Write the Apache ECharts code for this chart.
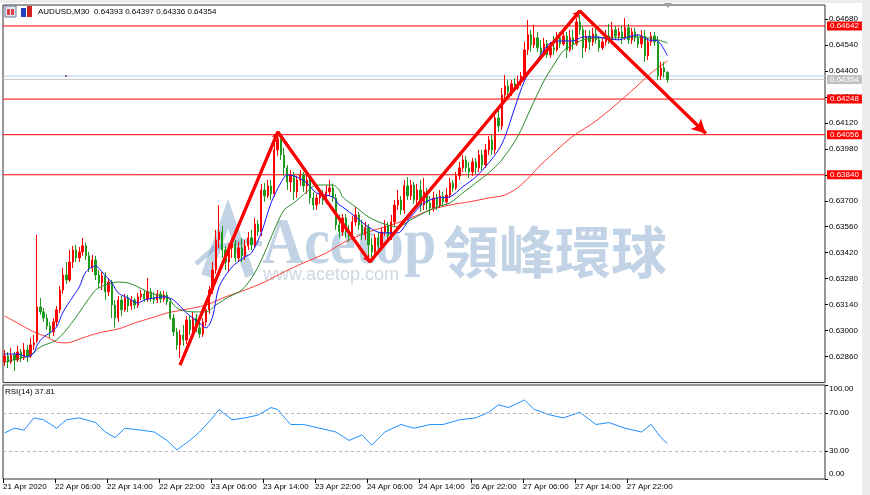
<!DOCTYPE html>
<html><head><meta charset="utf-8">
<script src="https://cdn.jsdelivr.net/npm/echarts@6/dist/echarts.min.js"></script>
<style>html,body{margin:0;padding:0;background:#fff}#c{width:870px;height:495px}</style>
</head><body><div id="c"></div>
<script>
const headerText = 'AUDUSD,M30  0.64393 0.64397 0.64336 0.64354';
const rsiTitle = 'RSI(14) 37.81';
const tickLabels = ['21 Apr 2020','22 Apr 06:00','22 Apr 14:00','22 Apr 22:00','23 Apr 06:00','23 Apr 14:00','23 Apr 22:00','24 Apr 06:00','24 Apr 14:00','26 Apr 22:00','27 Apr 06:00','27 Apr 14:00','27 Apr 22:00'];
const priceTicks = [0.62860,0.63000,0.63140,0.63280,0.63420,0.63560,0.63700,0.63840,0.63980,0.64120,0.64260,0.64400,0.64540,0.64680];
const rsiTicks = [0,30,70,100];
const rsiLevels = [70,30];
const levels = [0.64642,0.64248,0.64056,0.63840];
const bidPrice = 0.64354;
const askPrice = 0.64372;

const opens = [0.62831,0.62864,0.62831,0.62869,0.62842,0.62885,0.62853,0.62896,0.62864,0.62923,
0.62944,0.63128,0.63101,0.63068,0.63025,0.62993,0.63047,0.63112,0.63219,0.63300,
0.63273,0.63370,0.63435,0.63392,0.63424,0.63457,0.63403,0.63338,0.63381,0.63300,
0.63257,0.63295,0.63209,0.63262,0.63138,0.63068,0.63165,0.63112,0.63176,0.63133,
0.63165,0.63138,0.63182,0.63198,0.63171,0.63209,0.63176,0.63165,0.63198,0.63171,
0.63192,0.63155,0.63068,0.62993,0.62923,0.62977,0.62950,0.63058,0.63004,0.63068,
0.63015,0.62982,0.63047,0.63112,0.63219,0.63327,0.63489,0.63532,0.63435,0.63370,
0.63446,0.63467,0.63392,0.63446,0.63403,0.63457,0.63500,0.63462,0.63575,0.63532,
0.63758,0.63726,0.63780,0.63737,0.63974,0.64028,0.63947,0.63877,0.63801,0.63839,
0.63748,0.63812,0.63839,0.63780,0.63812,0.63715,0.63677,0.63715,0.63731,0.63704,
0.63748,0.63769,0.63715,0.63570,0.63532,0.63607,0.63532,0.63510,0.63586,0.63624,
0.63570,0.63516,0.63554,0.63462,0.63424,0.63500,0.63457,0.63532,0.63564,0.63510,
0.63586,0.63677,0.63704,0.63650,0.63780,0.63726,0.63785,0.63704,0.63758,0.63677,
0.63748,0.63688,0.63661,0.63715,0.63677,0.63726,0.63694,0.63731,0.63796,0.63769,
0.63834,0.63877,0.63920,0.63877,0.63855,0.63909,0.63877,0.63947,0.63893,0.63974,
0.64028,0.63974,0.64146,0.64103,0.64270,0.64319,0.64287,0.64330,0.64308,0.64340,
0.64373,0.64513,0.64594,0.64540,0.64578,0.64524,0.64502,0.64545,0.64486,0.64524,
0.64513,0.64578,0.64545,0.64588,0.64513,0.64578,0.64545,0.64664,0.64621,0.64524,
0.64588,0.64556,0.64599,0.64567,0.64524,0.64556,0.64588,0.64567,0.64621,0.64588,
0.64610,0.64578,0.64632,0.64567,0.64610,0.64578,0.64545,0.64588,0.64481,0.64556,
0.64588,0.64556,0.64373,0.64416,0.64393];
const closes = [0.62864,0.62831,0.62869,0.62842,0.62885,0.62853,0.62896,0.62864,0.62923,0.62934,
0.63128,0.63101,0.63068,0.63025,0.62993,0.63047,0.63112,0.63219,0.63300,0.63273,
0.63370,0.63435,0.63392,0.63424,0.63457,0.63403,0.63338,0.63381,0.63300,0.63257,
0.63295,0.63209,0.63262,0.63138,0.63068,0.63165,0.63112,0.63176,0.63133,0.63165,
0.63138,0.63182,0.63198,0.63171,0.63209,0.63176,0.63165,0.63198,0.63171,0.63192,
0.63155,0.63068,0.62993,0.62923,0.62977,0.62950,0.63058,0.63004,0.63068,0.63015,
0.62982,0.63047,0.63112,0.63219,0.63327,0.63489,0.63532,0.63435,0.63370,0.63446,
0.63467,0.63392,0.63446,0.63403,0.63457,0.63500,0.63462,0.63575,0.63532,0.63758,
0.63726,0.63780,0.63737,0.63974,0.64028,0.63947,0.63877,0.63801,0.63839,0.63748,
0.63812,0.63839,0.63780,0.63812,0.63715,0.63677,0.63715,0.63731,0.63704,0.63748,
0.63769,0.63715,0.63570,0.63532,0.63607,0.63532,0.63510,0.63586,0.63624,0.63570,
0.63516,0.63554,0.63462,0.63424,0.63500,0.63457,0.63532,0.63564,0.63510,0.63586,
0.63677,0.63704,0.63650,0.63780,0.63726,0.63785,0.63704,0.63758,0.63677,0.63748,
0.63688,0.63661,0.63715,0.63677,0.63726,0.63694,0.63731,0.63796,0.63769,0.63834,
0.63877,0.63920,0.63877,0.63855,0.63909,0.63877,0.63947,0.63893,0.63974,0.64028,
0.63974,0.64146,0.64103,0.64270,0.64319,0.64287,0.64330,0.64308,0.64340,0.64373,
0.64513,0.64594,0.64540,0.64578,0.64524,0.64502,0.64545,0.64486,0.64524,0.64513,
0.64578,0.64545,0.64588,0.64513,0.64578,0.64545,0.64664,0.64621,0.64524,0.64588,
0.64556,0.64599,0.64567,0.64524,0.64556,0.64588,0.64567,0.64621,0.64588,0.64610,
0.64578,0.64632,0.64567,0.64610,0.64578,0.64545,0.64588,0.64481,0.64556,0.64588,
0.64556,0.64373,0.64416,0.64394,0.64354];
const highs = [0.62896,0.62885,0.62907,0.62885,0.62918,0.62901,0.62934,0.62923,0.62961,0.62977,
0.63516,0.63176,0.63122,0.63090,0.63047,0.63068,0.63133,0.63241,0.63338,0.63370,
0.63435,0.63457,0.63462,0.63451,0.63500,0.63473,0.63424,0.63408,0.63403,0.63327,
0.63316,0.63316,0.63284,0.63273,0.63165,0.63187,0.63187,0.63198,0.63192,0.63187,
0.63176,0.63203,0.63219,0.63219,0.63284,0.63230,0.63209,0.63219,0.63214,0.63214,
0.63209,0.63176,0.63090,0.63015,0.63004,0.63031,0.63079,0.63079,0.63101,0.63090,
0.63047,0.63068,0.63133,0.63241,0.63370,0.63543,0.63677,0.63564,0.63457,0.63467,
0.63500,0.63489,0.63478,0.63500,0.63489,0.63532,0.63543,0.63607,0.63597,0.63791,
0.63796,0.63812,0.63812,0.64028,0.64066,0.64049,0.63985,0.63893,0.63866,0.63855,
0.63834,0.63866,0.63855,0.63855,0.63834,0.63748,0.63737,0.63758,0.63758,0.63785,
0.63812,0.63791,0.63737,0.63624,0.63629,0.63629,0.63570,0.63618,0.63667,0.63640,
0.63597,0.63586,0.63575,0.63500,0.63521,0.63532,0.63554,0.63597,0.63586,0.63624,
0.63704,0.63758,0.63726,0.63812,0.63828,0.63812,0.63801,0.63791,0.63812,0.63823,
0.63769,0.63726,0.63748,0.63737,0.63758,0.63748,0.63769,0.63823,0.63812,0.63855,
0.63909,0.63947,0.63942,0.63909,0.63931,0.63931,0.63974,0.63974,0.64006,0.64049,
0.64055,0.64179,0.64190,0.64308,0.64378,0.64351,0.64351,0.64362,0.64373,0.64394,
0.64556,0.64675,0.64621,0.64648,0.64610,0.64567,0.64578,0.64567,0.64556,0.64588,
0.64610,0.64610,0.64632,0.64610,0.64621,0.64621,0.64685,0.64702,0.64642,0.64621,
0.64621,0.64632,0.64632,0.64588,0.64578,0.64621,0.64653,0.64664,0.64642,0.64632,
0.64642,0.64685,0.64653,0.64632,0.64632,0.64599,0.64621,0.64621,0.64578,0.64610,
0.64610,0.64588,0.64448,0.64448,0.64397];
const lows = [0.62810,0.62799,0.62820,0.62783,0.62831,0.62831,0.62842,0.62831,0.62853,0.62896,
0.62934,0.63085,0.63047,0.63004,0.62961,0.62971,0.63025,0.63095,0.63198,0.63252,
0.63262,0.63338,0.63370,0.63370,0.63403,0.63381,0.63316,0.63316,0.63273,0.63230,
0.63219,0.63165,0.63187,0.63068,0.63015,0.63047,0.63079,0.63101,0.63101,0.63112,
0.63117,0.63122,0.63165,0.63155,0.63155,0.63155,0.63144,0.63149,0.63149,0.63155,
0.63138,0.63058,0.62971,0.62896,0.62853,0.62918,0.62928,0.62977,0.62988,0.62993,
0.62961,0.62966,0.63025,0.63090,0.63198,0.63306,0.63446,0.63392,0.63327,0.63316,
0.63392,0.63370,0.63370,0.63370,0.63381,0.63435,0.63435,0.63446,0.63510,0.63510,
0.63694,0.63715,0.63704,0.63721,0.63942,0.63920,0.63834,0.63758,0.63748,0.63704,
0.63715,0.63780,0.63748,0.63737,0.63683,0.63650,0.63650,0.63683,0.63677,0.63683,
0.63726,0.63694,0.63543,0.63500,0.63510,0.63500,0.63478,0.63489,0.63564,0.63543,
0.63489,0.63489,0.63381,0.63392,0.63403,0.63424,0.63435,0.63510,0.63478,0.63489,
0.63564,0.63650,0.63624,0.63629,0.63704,0.63704,0.63683,0.63672,0.63640,0.63650,
0.63650,0.63624,0.63640,0.63650,0.63661,0.63672,0.63683,0.63715,0.63748,0.63758,
0.63812,0.63855,0.63855,0.63823,0.63834,0.63845,0.63855,0.63866,0.63877,0.63947,
0.63947,0.63952,0.64071,0.64082,0.64243,0.64265,0.64265,0.64287,0.64297,0.64319,
0.64351,0.64486,0.64502,0.64524,0.64502,0.64470,0.64481,0.64470,0.64470,0.64486,
0.64502,0.64524,0.64535,0.64470,0.64502,0.64513,0.64535,0.64594,0.64470,0.64502,
0.64513,0.64535,0.64545,0.64502,0.64513,0.64535,0.64545,0.64556,0.64567,0.64567,
0.64545,0.64567,0.64545,0.64545,0.64556,0.64524,0.64524,0.64448,0.64459,0.64535,
0.64535,0.64351,0.64351,0.64362,0.64336];

// moving averages: [bar index, price]
const maFast = [[0,0.62874],[4,0.62874],[7,0.62858],[9,0.62880],[10,0.62923],[12,0.62966],[14,0.62988],[16,0.63020],[18,0.63101],[21,0.63182],[23,0.63236],[25,0.63316],[28,0.63349],[30,0.63316],[33,0.63257],[35,0.63203],[38,0.63176],[41,0.63149],[43,0.63165],[46,0.63176],[49,0.63182],[52,0.63165],[56,0.63095],[60,0.63041],[62,0.63015],[64,0.63074],[66,0.63236],[70,0.63343],[74,0.63397],[76,0.63419],[79,0.63527],[82,0.63688],[85,0.63796],[87,0.63839],[90,0.63828],[93,0.63796],[96,0.63742],[101,0.63721],[103,0.63677],[104,0.63667],[108,0.63613],[112,0.63559],[116,0.63527],[121,0.63527],[125,0.63613],[129,0.63688],[133,0.63715],[137,0.63721],[141,0.63775],[145,0.63828],[149,0.63904],[152,0.63974],[154,0.64044],[157,0.64200],[160,0.64346],[163,0.64432],[166,0.64513],[168,0.64551],[171,0.64561],[175,0.64561],[178,0.64583],[182,0.64583],[186,0.64572],[189,0.64567],[192,0.64583],[195,0.64594],[198,0.64567],[201,0.64561],[204,0.64481]];
const maMid = [[0,0.62831],[5,0.62853],[8,0.62869],[11,0.62912],[14,0.62934],[16,0.62950],[19,0.63004],[22,0.63074],[25,0.63149],[28,0.63219],[31,0.63246],[35,0.63262],[38,0.63257],[41,0.63236],[44,0.63209],[47,0.63192],[50,0.63182],[53,0.63122],[58,0.63101],[62,0.63101],[65,0.63138],[69,0.63182],[73,0.63219],[77,0.63311],[80,0.63419],[83,0.63543],[86,0.63650],[89,0.63688],[93,0.63748],[96,0.63785],[101,0.63785],[103,0.63758],[104,0.63721],[108,0.63667],[112,0.63613],[116,0.63580],[121,0.63559],[125,0.63597],[129,0.63634],[133,0.63667],[137,0.63688],[141,0.63742],[145,0.63796],[149,0.63850],[153,0.63920],[158,0.64049],[162,0.64200],[166,0.64346],[169,0.64432],[172,0.64508],[175,0.64540],[178,0.64567],[184,0.64578],[188,0.64578],[194,0.64583],[198,0.64578],[201,0.64567],[204,0.64551]];
const maSlow = [[0,0.63079],[4,0.63041],[9,0.62993],[13,0.62966],[16,0.62939],[19,0.62934],[24,0.62961],[29,0.62988],[35,0.63009],[40,0.63041],[45,0.63068],[50,0.63095],[55,0.63112],[62,0.63138],[68,0.63182],[74,0.63219],[80,0.63262],[86,0.63316],[92,0.63365],[99,0.63419],[103,0.63462],[106,0.63489],[112,0.63532],[119,0.63570],[125,0.63607],[131,0.63650],[137,0.63677],[143,0.63694],[149,0.63715],[154,0.63731],[159,0.63785],[165,0.63893],[170,0.63974],[175,0.64049],[182,0.64130],[188,0.64216],[194,0.64308],[198,0.64373],[201,0.64416],[204,0.64454]];
// RSI(14): [bar index, value]
const rsiValues = [[0,49],[3,54],[6,52],[9,65],[12,63],[16,54],[19,63],[23,65],[28,60],[31,50],[34,44],[37,54],[42,52],[46,50],[50,41],[53,31],[57,41],[60,50],[64,65],[66,74],[70,63],[74,65],[78,68],[82,76],[84,74],[88,58],[92,58],[97,54],[102,50],[106,41],[110,47],[113,36],[117,50],[122,58],[126,54],[131,58],[135,58],[140,63],[145,65],[149,71],[152,79],[155,76],[160,84],[163,74],[168,68],[172,65],[177,71],[182,58],[186,60],[191,54],[196,50],[199,58],[202,44],[204,37.81]];
// hand-drawn zigzag trend lines: [bar index, price]
const zigzag = [[54,0.62815],[84.1,0.64071],[112.4,0.63370],[177,0.64723],[215.8,0.64063]];
const totalSlots = 253;

const UP = '#ff0000', DOWN = '#1f9a1f';
const FONT = '"Liberation Sans", Arial, sans-serif';
const WM = 'rgba(100,145,190,0.4)';
const slots = Array.from({length: totalSlots}, (_, i) => String(i));
const candleData = opens.map((o, i) => [o, closes[i], lows[i], highs[i]]);
const xTickPos = tickLabels.map((_, k) => 16 * k - 0.5);
const X0 = -0.5, X1 = totalSlots - 0.5;

const zigSegs = [];
for (let k = 0; k < zigzag.length - 1; k++) {
  const last = k === zigzag.length - 2;
  zigSegs.push([
    {coord: zigzag[k], symbol: 'none'},
    {coord: zigzag[k + 1], symbol: 'arrow', symbolSize: last ? [11, 14] : [6, 7]}
  ]);
}

function hLine(v, color, bg) {
  return {type: 'line', xAxisIndex: 1, yAxisIndex: 0, data: [[X0, v], [X1, v]], symbol: 'none', silent: true, z: 2,
    lineStyle: {color: color, width: 1},
    endLabel: bg ? {show: true, distance: 2, formatter: () => v.toFixed(5), backgroundColor: bg, color: '#fff',
      fontSize: 8, fontFamily: FONT, padding: [1, 3, 0, 3]} : {show: false}};
}

const chart = echarts.init(document.getElementById('c'), null, {renderer: 'canvas'});
const noLine = {show: false, onZero: false};

chart.setOption({
  animation: false,
  backgroundColor: '#fff',
  grid: [
    {left: 3, right: 45, top: 5, height: 377.6, show: true, borderColor: '#303030', borderWidth: 1, outerBoundsMode: 'none'},
    {left: 3, right: 45, top: 385, height: 94, show: true, borderColor: '#303030', borderWidth: 1, outerBoundsMode: 'none'}
  ],
  xAxis: [
    {type: 'category', gridIndex: 0, data: slots, boundaryGap: true, show: false, axisLine: noLine},
    {type: 'value', gridIndex: 0, min: X0, max: X1, show: false, axisLine: noLine},
    {type: 'value', gridIndex: 1, min: X0, max: X1, interval: 16,
      axisLine: noLine, splitLine: {show: false},
      axisTick: {show: true, length: 4, customValues: xTickPos, lineStyle: {color: '#000'}},
      axisLabel: {show: true, customValues: xTickPos, align: 'left', margin: 4, fontSize: 8, fontFamily: FONT, color: '#000',
        formatter: v => { const k = Math.round((v + 0.5) / 16); return (k >= 0 && k < tickLabels.length) ? tickLabels[k] : ''; }}}
  ],
  yAxis: [
    {type: 'value', gridIndex: 0, position: 'right', min: 0.6272, max: 0.64755, scale: true,
      axisLine: noLine, splitLine: {show: false},
      axisTick: {show: true, length: 3, customValues: priceTicks, lineStyle: {color: '#000'}},
      axisLabel: {customValues: priceTicks, margin: 4, fontSize: 8, fontFamily: FONT, color: '#000', formatter: v => v.toFixed(5)}},
    {type: 'value', gridIndex: 1, position: 'right', min: 0, max: 100,
      axisLine: noLine, splitLine: {show: false},
      axisTick: {show: true, length: 3, customValues: rsiTicks, lineStyle: {color: '#000'}},
      axisLabel: {customValues: rsiTicks, margin: 4, fontSize: 8, fontFamily: FONT, color: '#000',
        formatter: v => v === 100 ? '{t|100.00}' : (v === 0 ? '{b|0.00}' : v.toFixed(2)),
        rich: {t: {padding: [8, 0, 0, 0], fontSize: 8, fontFamily: FONT, color: '#000'}, b: {padding: [0, 0, 10, 0], fontSize: 8, fontFamily: FONT, color: '#000'}}}}
  ],
  series: [
    hLine(askPrice, '#b9cde3', null),
    hLine(bidPrice, '#c4c4c4', '#c0c0c0'),
    ...levels.map(v => hLine(v, '#ff0000', '#ff0000')),
    {type: 'line', xAxisIndex: 1, yAxisIndex: 0, data: maSlow, showSymbol: false, smooth: 0.3, z: 3,
      lineStyle: {color: '#ff3b3b', width: 1}},
    {type: 'candlestick', xAxisIndex: 0, yAxisIndex: 0, data: candleData, barWidth: 1.8, z: 3,
      itemStyle: {color: UP, color0: DOWN, borderColor: UP, borderColor0: DOWN, borderWidth: 1}},
    {type: 'line', xAxisIndex: 1, yAxisIndex: 0, data: maMid, showSymbol: false, smooth: 0.3, z: 4,
      lineStyle: {color: '#2a8a2a', width: 1}},
    {type: 'line', xAxisIndex: 1, yAxisIndex: 0, data: maFast, showSymbol: false, smooth: 0.3, z: 4,
      lineStyle: {color: '#1515ff', width: 1}},
    {type: 'line', xAxisIndex: 1, yAxisIndex: 0, data: zigzag, showSymbol: false, z: 6,
      lineStyle: {color: '#ff0000', width: 3},
      markLine: {silent: true, animation: false, label: {show: false},
        lineStyle: {color: '#ff0000', width: 3, type: 'solid'}, data: zigSegs}},
    {type: 'line', xAxisIndex: 2, yAxisIndex: 1, data: rsiValues, showSymbol: false, z: 4,
      lineStyle: {color: '#1e90ff', width: 1},
      markLine: {silent: true, symbol: 'none', animation: false, label: {show: false},
        lineStyle: {color: '#b4b4b4', width: 1, type: [3, 3]},
        data: rsiLevels.map(v => ({yAxis: v}))}}
  ],
  graphic: [
    {type: 'rect', z: 0, shape: {x: 862, y: 0, width: 8, height: 495}, style: {fill: '#ececec'}},
    {type: 'rect', z: 0, shape: {x: 0, y: 0, width: 862, height: 3}, style: {fill: '#ececec'}},
    // watermark
    {type: 'polyline', z: 1, shape: {points: [[206, 276], [228, 214], [250, 276]]}, style: {stroke: WM, lineWidth: 10, fill: null}},
    {type: 'polyline', z: 1, shape: {points: [[196, 264], [214, 248], [244, 241], [262, 244]]}, style: {stroke: WM, lineWidth: 5, fill: null}},
    {type: 'text', z: 1, x: 262, y: 246, scaleX: 0.88, style: {text: 'Acetop', font: 'bold 66px "Liberation Serif", serif', fill: WM, verticalAlign: 'middle'}},
    {type: 'text', z: 1, x: 443, y: 252, style: {text: '領峰環球', font: 'bold 56px "Noto Sans CJK TC", sans-serif', fill: WM, verticalAlign: 'middle'}},
    {type: 'text', z: 1, x: 263, y: 275, style: {text: 'www.acetop.com', font: '18px "Liberation Sans", sans-serif', fill: 'rgba(110,140,170,0.35)', verticalAlign: 'middle'}},
    // header icons and text
    {type: 'rect', z: 10, shape: {x: 5, y: 6, width: 11, height: 11}, style: {fill: '#dfe6f2', stroke: '#6a7a9a', lineWidth: 1}},
    {type: 'rect', z: 10, shape: {x: 7, y: 9, width: 3, height: 6}, style: {fill: '#e04040'}},
    {type: 'rect', z: 10, shape: {x: 11, y: 9, width: 3, height: 6}, style: {fill: '#e04040'}},
    {type: 'rect', z: 10, shape: {x: 21, y: 8, width: 5, height: 9}, style: {fill: '#2040c0'}},
    {type: 'rect', z: 10, shape: {x: 27, y: 6, width: 5, height: 11}, style: {fill: '#d02020'}},
    {type: 'text', z: 10, x: 38, y: 12, style: {text: headerText, font: '8px ' + FONT, fill: '#000', verticalAlign: 'middle'}},
    {type: 'text', z: 10, x: 5, y: 392, style: {text: rsiTitle, font: '8px ' + FONT, fill: '#000', verticalAlign: 'middle'}},
    {type: 'polygon', z: 10, shape: {points: [[664, 3], [672, 3], [668, 8]]}, style: {fill: '#a0a0a0'}},
    {type: 'circle', z: 10, shape: {cx: 66, cy: 76, r: 1}, style: {fill: '#555'}}
  ]
});
</script>
</body></html>
